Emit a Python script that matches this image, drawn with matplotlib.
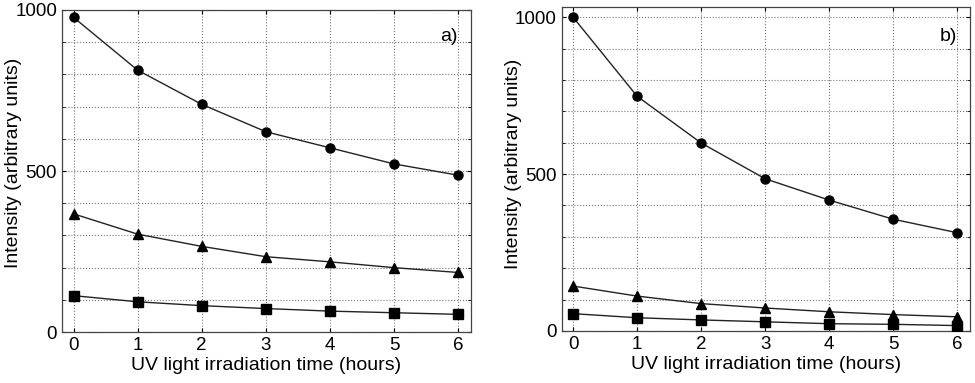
import numpy as np
import matplotlib.pyplot as plt
from matplotlib.ticker import MultipleLocator

plt.rcParams['font.family'] = ['Liberation Sans', 'DejaVu Sans']

hours = [0, 1, 2, 3, 4, 5, 6]

# panel a)
a_circle = [977, 813, 707, 622, 572, 522, 487]
a_triangle = [367, 304, 266, 234, 218, 200, 185]
a_square = [113, 94, 82, 73, 65, 60, 55]

# panel b)
b_circle = [1000, 748, 599, 485, 417, 356, 313]
b_triangle = [143, 111, 87, 73, 61, 52, 45]
b_square = [55, 42, 35, 29, 23, 21, 17]

fig = plt.figure(figsize=(9.75, 3.83), dpi=100)
ax1 = fig.add_axes([0.0636, 0.133, 0.4194, 0.841])
ax2 = fig.add_axes([0.576, 0.136, 0.419, 0.846])


def draw(ax, circ, tri, sq, ytop, tag, tagy, lab_xy):
    for vals, m in [(circ, 'o'), (tri, '^'), (sq, 's')]:
        ax.plot(hours, vals, color='#222222', lw=1.0, marker=m, ms=6.5,
                mfc='black', mec='black', zorder=3)
    ax.set_xlim(-0.18, 6.2)
    ax.set_ylim(0, ytop)
    ax.set_xticks(hours)
    ax.yaxis.set_major_locator(MultipleLocator(500))
    ax.yaxis.set_minor_locator(MultipleLocator(100))
    ax.grid(True, which='both', ls=':', color='#777777', lw=0.8)
    ax.tick_params(which='both', direction='in', top=True, right=True,
                   labelsize=13.5, length=3, pad=3.5)
    ax.tick_params(which='minor', length=2)
    for s in ax.spines.values():
        s.set_color('#444444')
        s.set_linewidth(0.9)
    ax.set_xlabel('UV light irradiation time (hours)', fontsize=14, labelpad=2)
    ax.set_ylabel('Intensity (arbitrary units)', fontsize=14)
    ax.yaxis.set_label_coords(*lab_xy)
    ax.text(5.72, tagy, tag, fontsize=14, ha='left', va='center')


draw(ax1, a_circle, a_triangle, a_square, 1000, 'a)', 917, (-0.098, 0.525))
draw(ax2, b_circle, b_triangle, b_square, 1033, 'b)', 939, (-0.096, 0.515))

fig.savefig('out.png', dpi=100)
